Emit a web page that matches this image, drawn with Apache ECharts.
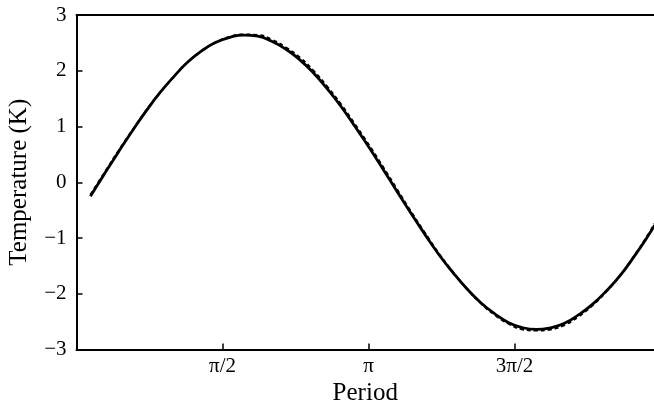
<!DOCTYPE html>
<html>
<head>
<meta charset="utf-8">
<script src="https://cdn.jsdelivr.net/npm/echarts@6/dist/echarts.min.js"></script>
<style>html,body{margin:0;padding:0;background:#fff;}#c{width:654px;height:405px;}</style>
</head>
<body>
<div id="c"></div>
<script>
var periods = [0.15, 0.30, 0.45, 0.60, 0.75, 0.90, 1.05, 1.20, 1.35, 1.50, 1.65, 1.80, 1.95, 2.10, 2.25, 2.40, 2.55, 2.70, 2.85, 3.00, 3.15, 3.30, 3.45, 3.60, 3.75, 3.90, 4.05, 4.20, 4.35, 4.50, 4.65, 4.80, 4.95, 5.10, 5.25, 5.40, 5.55, 5.70, 5.85, 6.00, 6.15, 6.22];
var solidTemp = [-0.25, 0.15, 0.54, 0.92, 1.28, 1.61, 1.90, 2.16, 2.36, 2.51, 2.60, 2.64, 2.62, 2.53, 2.39, 2.20, 1.96, 1.67, 1.35, 0.99, 0.62, 0.23, -0.17, -0.56, -0.94, -1.30, -1.62, -1.91, -2.16, -2.36, -2.52, -2.61, -2.64, -2.61, -2.53, -2.38, -2.19, -1.95, -1.67, -1.33, -0.96, -0.77];
var dashedTemp = [-0.22, 0.17, 0.56, 0.93, 1.29, 1.61, 1.90, 2.16, 2.36, 2.51, 2.61, 2.65, 2.64, 2.56, 2.42, 2.24, 2.00, 1.71, 1.39, 1.03, 0.66, 0.27, -0.13, -0.53, -0.91, -1.28, -1.61, -1.91, -2.17, -2.38, -2.54, -2.64, -2.66, -2.64, -2.56, -2.41, -2.21, -1.96, -1.67, -1.32, -0.94, -0.74];
var xTickLabels = ['', 'π/2', 'π', '3π/2', ''];
var yTicks = [-3, -2, -1, 0, 1, 2, 3];

function pairs(xs, ys) { return xs.map(function (x, i) { return [x, ys[i]]; }); }

var font = 'Liberation Serif';
var xMax = 6.213;
var chart = echarts.init(document.getElementById('c'));
chart.setOption({
  animation: false,
  backgroundColor: '#fff',
  grid: { left: 76.5, right: 0, top: 15, bottom: 55.5, containLabel: false, outerBoundsMode: 'none' },
  xAxis: [{
    type: 'value', min: 0, max: xMax, interval: Math.PI / 2,
    name: 'Period', nameLocation: 'middle', nameGap: 26,
    nameTextStyle: { fontFamily: font, fontSize: 25, color: '#000' },
    axisLine: { onZero: false, lineStyle: { color: '#000', width: 2 } },
    axisTick: { inside: true, length: 6, lineStyle: { color: '#000', width: 1.5 } },
    axisLabel: { fontFamily: font, fontSize: 21, color: '#000', margin: 6, showMaxLabel: false,
      formatter: function (v) { return xTickLabels[Math.round(v / (Math.PI / 2))] || ''; } },
    splitLine: { show: false }
  }, {
    type: 'value', position: 'top', min: 0, max: xMax,
    axisLine: { onZero: false, lineStyle: { color: '#000', width: 2 } },
    axisTick: { show: false }, axisLabel: { show: false }, splitLine: { show: false }
  }],
  yAxis: {
    type: 'value', min: yTicks[0], max: yTicks[yTicks.length - 1], interval: 1,
    name: 'Temperature (K)', nameLocation: 'middle', nameGap: 45,
    nameTextStyle: { fontFamily: font, fontSize: 25, color: '#000' },
    axisLine: { onZero: false, lineStyle: { color: '#000', width: 2 } },
    axisTick: { inside: true, length: 6, lineStyle: { color: '#000', width: 1.5 } },
    axisLabel: { fontFamily: font, fontSize: 21, color: '#000', margin: 10,
      formatter: function (v) { return v < 0 ? '\u2212' + Math.abs(v) : String(v); } },
    splitLine: { show: false }
  },
  series: [
    { type: 'line', data: pairs(periods, solidTemp), smooth: true, showSymbol: false,
      lineStyle: { color: '#000', width: 2.8 }, z: 2 },
    { type: 'line', data: pairs(periods, dashedTemp), smooth: true, showSymbol: false,
      lineStyle: { color: '#000', width: 2, type: [4, 3] }, z: 3 }
  ]
});
</script>
</body>
</html>
